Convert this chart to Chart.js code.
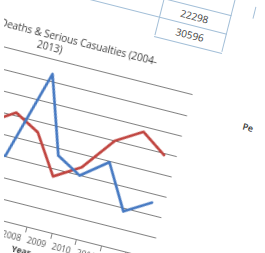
<!DOCTYPE html>
<html><head><meta charset="utf-8">
<script src="https://cdn.jsdelivr.net/npm/chart.js@4.4.1/dist/chart.umd.min.js"></script>
<style>
html,body{margin:0;padding:0;width:265px;height:253px;overflow:hidden;background:#fff;}
#page{position:absolute;width:800px;height:700px;}
#wrap{position:absolute;}
.ln{position:absolute;background:#a3bfd8;}
.num{position:absolute;font-family:"Open Sans",sans-serif;font-size:10px;color:#3c3c3c;text-align:center;line-height:1;}
#side{position:absolute;font-family:"Open Sans",sans-serif;font-size:9px;font-weight:600;color:#333;line-height:1;white-space:nowrap;}
#mask{position:absolute;left:0;top:0;width:4px;height:253px;background:#fff;z-index:10;}
</style></head><body>
<div id="page"><div id="wrap"></div></div>
<div id="mask"></div>
<script>
const categories = ['2004','2005','2006','2007','2008','2009','2010','2011','2012','2013'];
const deaths  = [1150, 1650, 1300, 1525, 3670, 1835, 1500, 1980, 930, 1300];
const serious = [2350, 2700, 2185, 2575, 2250, 1325, 1700, 2500, 2875, 2460];
const yMin = 0, yMax = 4000, yStep = 500;
const titleLines = ['Number of Deaths & Serious Casualties (2004-', '2013)'];
const xTitle = 'Year';
const tableValues = ['22298', '30596'];
const sideText = 'Pe';

// layout geometry (page frame, rotated as a whole)
const AX = 300, AY = 450;
const ANGLE = 14.2;
const PLOT_W = 256, PLOT_H = 168.8, U_FIRST = 9.5 - 4 * 25.6;
const Y_AXIS_W = 44.6;

const page = document.getElementById('page');
const wrap = document.getElementById('wrap');
page.style.left = (5 - AX) + 'px';
page.style.top = (221.7 - AY) + 'px';
page.style.transformOrigin = AX + 'px ' + AY + 'px';
page.style.transform = 'rotate(' + ANGLE + 'deg)';

function makeChart(W, H) {
  const cv = document.createElement('canvas');
  cv.width = W; cv.height = H;
  cv.style.width = W + 'px'; cv.style.height = H + 'px';
  wrap.innerHTML = ''; wrap.appendChild(cv);
  const ff = '"Open Sans", sans-serif';
  return new Chart(cv, {
    type: 'line',
    data: { labels: categories, datasets: [
      { label: 'Deaths', data: deaths, borderColor: '#4679c2', borderWidth: 2.7, pointRadius: 0, fill: false, tension: 0, borderJoinStyle: 'round', borderCapStyle: 'round' },
      { label: 'Serious Casualties', data: serious, borderColor: '#c0443f', borderWidth: 2.7, pointRadius: 0, fill: false, tension: 0, borderJoinStyle: 'round', borderCapStyle: 'round' }
    ]},
    options: {
      responsive: false, animation: false, devicePixelRatio: 1,
      layout: { padding: { left: 0, right: 0, top: 0, bottom: 2 } },
      plugins: {
        legend: { display: false }, tooltip: { enabled: false },
        title: { display: true, text: titleLines, color: '#3a3a3a',
          font: { family: ff, size: 10, weight: 'normal', lineHeight: 1.2 }, padding: { top: 4, bottom: 5 } }
      },
      scales: {
        x: { offset: true,
          grid: { display: true, drawOnChartArea: false, drawTicks: true, tickLength: 5, offset: true, color: '#828282' },
          border: { display: true, color: '#828282', width: 1.1 },
          ticks: { color: '#555555', font: { family: ff, size: 8.5, lineHeight: 1 }, padding: 3.5, maxRotation: 0, autoSkip: false },
          title: { display: true, text: xTitle, color: '#404040', font: { family: ff, size: 8.5, weight: 'bold', lineHeight: 1 }, padding: { top: 0, bottom: 0 } } },
        y: { min: yMin, max: yMax,
          afterFit: (sc) => { sc.width = Y_AXIS_W; },
          ticks: { stepSize: yStep, color: '#595959', font: { family: ff, size: 8 }, padding: 6 },
          grid: { color: '#828282', drawTicks: false, lineWidth: 1.1 },
          border: { display: false } }
      }
    }
  });
}

let W = Math.round(Y_AXIS_W + PLOT_W), H = 240;
let ch = makeChart(W, H);
let ca = ch.chartArea;
const W2 = Math.round(W + (PLOT_W - (ca.right - ca.left)));
const H2 = Math.round(H + (PLOT_H - (ca.bottom - ca.top)));
ch.destroy();
ch = makeChart(W2, H2);
const xs = ch.scales.x, ys = ch.scales.y;
const ax = xs.getPixelForValue(0) - U_FIRST;
const ay = ys.getPixelForValue(0);
wrap.style.left = (AX - ax) + 'px';
wrap.style.top = (AY - ay) + 'px';

// table and side text in frame coords (u right, v up from anchor)
function hline(u1, u2, v) {
  const d = document.createElement('div'); d.className = 'ln';
  d.style.left = (AX + u1) + 'px'; d.style.top = (AY - v) + 'px';
  d.style.width = (u2 - u1) + 'px'; d.style.height = '1px'; page.appendChild(d);
}
function vline(u, v1, v2) {
  const d = document.createElement('div'); d.className = 'ln';
  d.style.left = (AX + u) + 'px'; d.style.top = (AY - v2) + 'px';
  d.style.width = '1px'; d.style.height = (v2 - v1) + 'px'; page.appendChild(d);
}
const cL = 98.5, cR = 168, rowB = 217.5, rowH = 19.3;
hline(cL, cR + 1, rowB);
hline(-160, cR + 1, rowB + rowH);
hline(-160, cR + 1, rowB + 2 * rowH);
hline(-160, cR + 1, rowB + 3 * rowH);
vline(cL, rowB, rowB + 4 * rowH);
vline(cR, rowB, rowB + 4 * rowH);
vline(190, 258, 270);
tableValues.forEach((t, i) => {
  const d = document.createElement('div'); d.className = 'num'; d.textContent = t;
  const vTop = rowB + (tableValues.length - i) * rowH;
  d.style.left = (AX + cL) + 'px'; d.style.width = (cR - cL) + 'px';
  d.style.top = (AY - vTop + (rowH - 10) / 2) + 'px';
  page.appendChild(d);
});
const s = document.createElement('div'); s.id = 'side'; s.textContent = sideText;
s.style.left = (AX + 207) + 'px'; s.style.top = (AY - 151.2 - 4.5) + 'px';
page.appendChild(s);
</script>
</body></html>
